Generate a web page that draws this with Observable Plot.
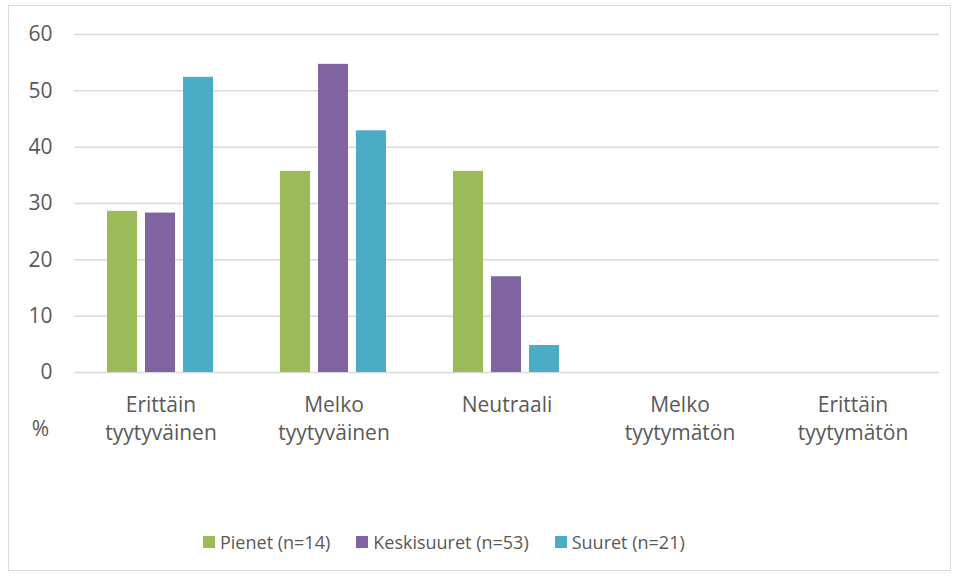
<!DOCTYPE html>
<html><head><meta charset="utf-8">
<script src="https://cdn.jsdelivr.net/npm/d3@7"></script>
<script src="https://cdn.jsdelivr.net/npm/@observablehq/plot@0.6"></script>
<style>
body{margin:0;background:#fff;font-family:"Open Sans",sans-serif;}
#wrap{position:relative;width:959px;height:576px;overflow:hidden;}
#frame{position:absolute;left:8px;top:5px;width:941px;height:564px;border:1.5px solid #d9d9d9;}
#chart{position:absolute;left:0;top:0;}
#legend{position:absolute;top:530px;left:203px;display:flex;gap:26px;font-size:18px;color:#595959;white-space:nowrap;}
.item{display:flex;align-items:center;gap:5px}
.sw{width:12px;height:12px;display:inline-block}
</style></head><body>
<div id="wrap"><div id="frame"></div><div id="chart"></div><div id="legend"></div></div>
<script>
const categories = ["Erittäin tyytyväinen","Melko tyytyväinen","Neutraali","Melko tyytymätön","Erittäin tyytymätön"];
const categoryLabels = ["Erittäin\ntyytyväinen","Melko\ntyytyväinen","Neutraali","Melko\ntyytymätön","Erittäin\ntyytymätön"];
const series = ["Pienet (n=14)","Keskisuuret (n=53)","Suuret (n=21)"];
const pienet = [28.6,35.7,35.7,0,0];
const keskisuuret = [28.3,54.7,17.0,0,0];
const suuret = [52.4,42.9,4.8,0,0];
const colors = ["#9BBB59","#8064A2","#4BACC6"];
const yTicks = [0,10,20,30,40,50,60];
const yUnit = "%";

const seriesValues = [pienet, keskisuuret, suuret];
const data = [];
categories.forEach((c,i)=>seriesValues.forEach((arr,j)=>data.push({category:c, series:series[j], value:arr[i]})));

const plot = Plot.plot({
  width:959, height:470, marginTop:34, marginBottom:98, marginLeft:72, marginRight:19,
  style:{fontFamily:'"Open Sans", sans-serif', fontSize:"21px", color:"#595959", background:"transparent"},
  fx:{domain:categories, padding:0, axis:null},
  x:{domain:series, paddingInner:0.2, paddingOuter:0.84, axis:null},
  y:{domain:[0,60], axis:null},
  color:{domain:series, range:colors},
  marks:[
    Plot.gridY(yTicks,{stroke:"#d9d9d9", strokeOpacity:1, strokeWidth:1.5}),
    Plot.barY(data,{fx:"category", x:"series", y:"value", fill:"series"}),
    Plot.axisY(yTicks,{tickSize:0, tickPadding:22, label:null, fontSize:21, fill:"#595959"}),
    Plot.axisFx({anchor:"bottom", tickSize:0, tickPadding:19, tickFormat:c=>categoryLabels[categories.indexOf(c)], lineHeight:1.35, label:null, fontSize:21, fill:"#595959"}),
    Plot.text([yUnit],{fx:()=>categories[0], text:d=>d, frameAnchor:"bottom-left", textAnchor:"middle", dx:-34, dy:63, fontSize:21, fill:"#595959"})
  ]
});
document.getElementById("chart").appendChild(plot);

const legend = document.getElementById("legend");
series.forEach((s,i)=>{
  const it = document.createElement("div"); it.className="item";
  const sw = document.createElement("span"); sw.className="sw"; sw.style.background=colors[i];
  const t = document.createElement("span"); t.textContent=s;
  it.appendChild(sw); it.appendChild(t); legend.appendChild(it);
});
</script>
</body></html>
